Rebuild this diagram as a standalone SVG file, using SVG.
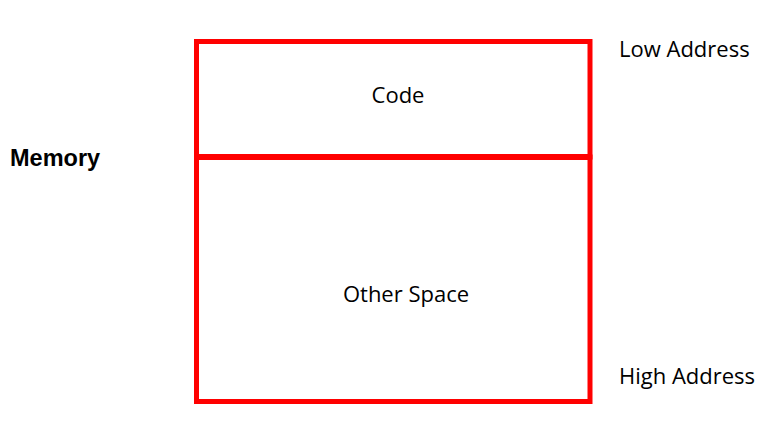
<svg xmlns="http://www.w3.org/2000/svg" width="770" height="423" viewBox="0 0 770 423">
<style>
.box{fill:none;stroke:#ff0000;stroke-width:5}
.t{font-family:"Open Sans","Noto Sans",sans-serif;font-size:22px;fill:#000}
.b{font-family:"Liberation Sans",Arial,sans-serif;font-size:23.5px;font-weight:bold;fill:#000}
</style>
<rect width="770" height="423" fill="#fff"/>
<g id="code">
<rect class="box" x="196.5" y="41.5" width="393.5" height="115.5"/>
<text class="t" x="398" y="103" text-anchor="middle">Code</text>
</g>
<g id="other">
<rect class="box" x="196.5" y="157" width="393.5" height="244.5"/>
<line x1="196.5" y1="157" x2="590" y2="157" stroke="#ff0000" stroke-width="6"/>
<text class="t" x="406" y="302" text-anchor="middle">Other Space</text>
</g>
<g id="labels">
<text class="b" x="10" y="166">Memory</text>
<text class="t" x="619" y="57">Low Address</text>
<text class="t" x="619" y="384">High Address</text>
</g>
<g id="connectors"/>
</svg>
